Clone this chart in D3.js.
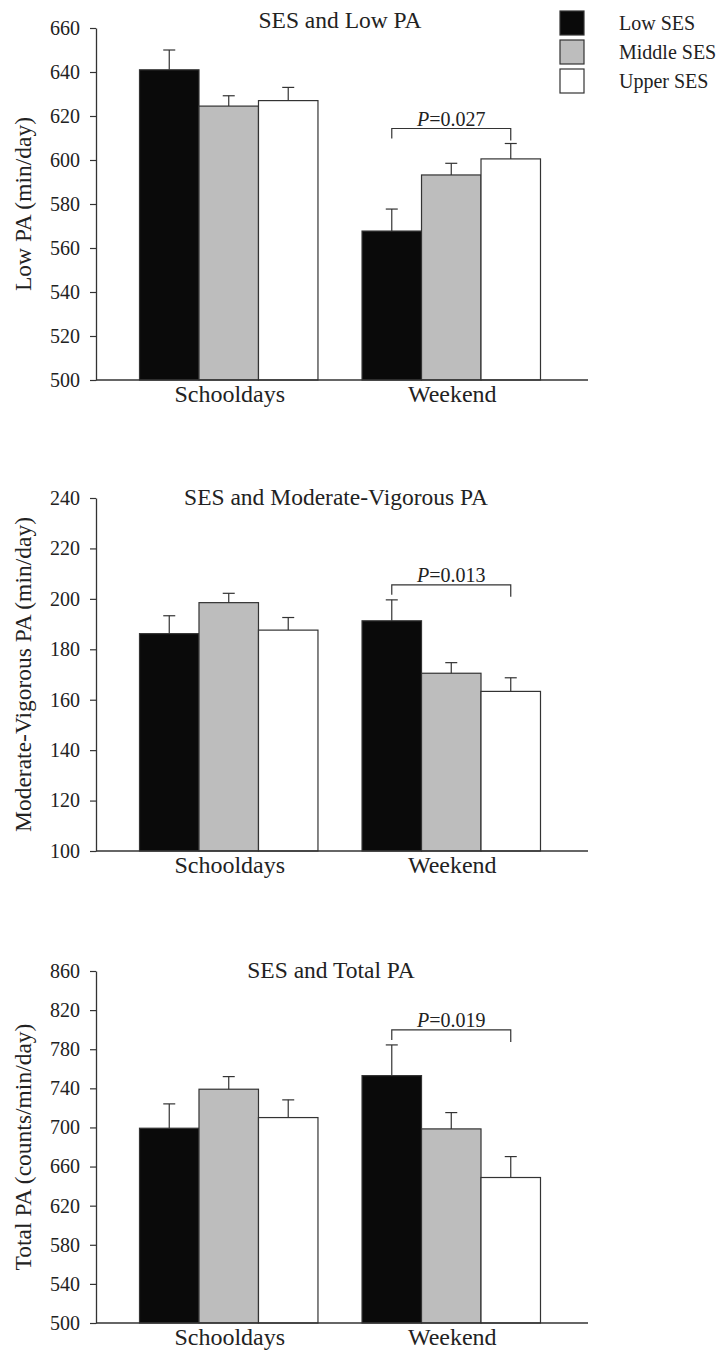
<!DOCTYPE html>
<html>
<head>
<meta charset="utf-8">
<script src="https://cdn.jsdelivr.net/npm/d3@7"></script>
<style>
  html, body { margin: 0; padding: 0; background: #fff; }
  svg text { font-family: "Liberation Serif", "Times New Roman", serif; fill: #222; }
</style>
</head>
<body>
<svg id="chart" width="720" height="1351"></svg>
<script>
// Day types on the x axis and SES groups within each day type
const categories = ["Schooldays", "Weekend"];
const sesGroups = ["Low SES", "Middle SES", "Upper SES"];

// Low PA (min/day): means and SE per day type, ordered Low / Middle / Upper SES
const lowPaMeans = [[641, 624.5, 627], [567.7, 593.2, 600.5]];
const lowPaErr = [[9, 4.7, 6], [10, 5.3, 7]];
const lowPaTicks = [500, 520, 540, 560, 580, 600, 620, 640, 660];

// Moderate-vigorous PA (min/day)
const mvpaMeans = [[186.2, 198.5, 187.6], [191.3, 170.5, 163.3]];
const mvpaErr = [[7.1, 3.7, 5], [8.3, 4.2, 5.4]];
const mvpaTicks = [100, 120, 140, 160, 180, 200, 220, 240];

// Total PA (counts/min/day)
const totalPaMeans = [[699.2, 739.1, 710.1], [753, 698.5, 648.8]];
const totalPaErr = [[24.9, 12.9, 18.1], [31.4, 16.7, 21.4]];
const totalPaTicks = [500, 540, 580, 620, 660, 700, 740, 780, 820, 860];

// Weekend Low vs Upper SES comparison labels
const pValues = ["0.027", "0.013", "0.019"];

const titles = ["SES and Low PA", "SES and Moderate-Vigorous PA", "SES and Total PA"];
const yLabels = ["Low PA (min/day)", "Moderate-Vigorous PA (min/day)", "Total PA (counts/min/day)"];

const fills = ["#0a0a0a", "#bdbdbd", "#ffffff"];
const ink = "#333";

const panels = [
  { means: lowPaMeans, err: lowPaErr, ticks: lowPaTicks, p: pValues[0], title: titles[0], yLabel: yLabels[0],
    top: 28, bottom: 380, titleX: 340, titleY: 28 },
  { means: mvpaMeans, err: mvpaErr, ticks: mvpaTicks, p: pValues[1], title: titles[1], yLabel: yLabels[1],
    top: 498, bottom: 851, titleX: 336, titleY: 505 },
  { means: totalPaMeans, err: totalPaErr, ticks: totalPaTicks, p: pValues[2], title: titles[2], yLabel: yLabels[2],
    top: 971, bottom: 1323, titleX: 331, titleY: 978 }
];

const svg = d3.select("#chart");
const axisLeftX = 96, axisRightX = 588;

const x0 = d3.scaleBand().domain(categories).range([94, 586]).paddingInner(0.198).paddingOuter(0.2045);
const x1 = d3.scaleBand().domain(d3.range(sesGroups.length)).range([0, x0.bandwidth()]).padding(0);

panels.forEach(pn => {
  const g = svg.append("g");
  const y = d3.scaleLinear()
    .domain([pn.ticks[0], pn.ticks[pn.ticks.length - 1]])
    .range([pn.bottom, pn.top]);

  // title
  g.append("text")
    .attr("x", pn.titleX).attr("y", pn.titleY)
    .attr("text-anchor", "middle")
    .style("font-size", "23.5px")
    .text(pn.title);

  // y axis title
  g.append("text")
    .attr("transform", `translate(23,${(pn.top + pn.bottom) / 2}) rotate(-90)`)
    .attr("text-anchor", "middle")
    .attr("dominant-baseline", "central")
    .style("font-size", "23.5px")
    .text(pn.yLabel);

  // bars
  categories.forEach((cat, ci) => {
    const bg = g.append("g").attr("transform", `translate(${x0(cat)},0)`);
    sesGroups.forEach((s, si) => {
      const v = pn.means[ci][si];
      const e = pn.err[ci][si];
      const bx = x1(si), bw = x1.bandwidth();
      bg.append("rect")
        .attr("x", bx).attr("y", y(v))
        .attr("width", bw).attr("height", y.range()[0] - y(v))
        .attr("fill", fills[si])
        .attr("stroke", ink).attr("stroke-width", 1.2);
      const cx = bx + bw / 2;
      bg.append("line")
        .attr("x1", cx).attr("x2", cx)
        .attr("y1", y(v)).attr("y2", y(v + e))
        .attr("stroke", ink).attr("stroke-width", 1.2);
      bg.append("line")
        .attr("x1", cx - 6).attr("x2", cx + 6)
        .attr("y1", y(v + e)).attr("y2", y(v + e))
        .attr("stroke", ink).attr("stroke-width", 1.2);
    });
  });

  // y axis
  const ya = g.append("g")
    .attr("transform", `translate(${axisLeftX},0)`)
    .call(d3.axisLeft(y).tickValues(pn.ticks).tickSize(6).tickSizeOuter(0).tickPadding(10).tickFormat(d3.format("d")));
  ya.select(".domain").attr("stroke", ink).attr("stroke-width", 1.3);
  ya.selectAll(".tick line").attr("stroke", ink).attr("stroke-width", 1.2);
  ya.selectAll(".tick text")
    .style("font-family", '"Liberation Serif", "Times New Roman", serif')
    .style("font-size", "20px").attr("fill", "#222");

  // x axis baseline
  g.append("line")
    .attr("x1", axisLeftX).attr("x2", axisRightX)
    .attr("y1", pn.bottom).attr("y2", pn.bottom)
    .attr("stroke", ink).attr("stroke-width", 1.3);

  // category labels
  categories.forEach(cat => {
    g.append("text")
      .attr("x", x0(cat) + x0.bandwidth() / 2 + 1)
      .attr("y", pn.bottom + 22)
      .attr("text-anchor", "middle")
      .style("font-size", "24px")
      .text(cat);
  });

  // significance bracket: weekend Low SES vs Upper SES
  const wk = categories[1];
  const xa = x0(wk) + x1(0) + x1.bandwidth() / 2;
  const xb = x0(wk) + x1(2) + x1.bandwidth() / 2;
  const topErr = d3.min([0, 1, 2], i => y(pn.means[1][i] + pn.err[1][i]));
  const by = topErr - 15;
  g.append("path")
    .attr("d", `M${xa},${by + 10}V${by}H${xb}V${by + 12}`)
    .attr("fill", "none").attr("stroke", ink).attr("stroke-width", 1.2);
  const pt = g.append("text")
    .attr("x", (xa + xb) / 2).attr("y", by - 3)
    .attr("text-anchor", "middle")
    .style("font-size", "20px");
  pt.append("tspan").style("font-style", "italic").text("P");
  pt.append("tspan").text("=" + pn.p);
});

// legend
const lg = svg.append("g");
sesGroups.forEach((s, i) => {
  lg.append("rect")
    .attr("x", 560).attr("y", 11 + i * 29)
    .attr("width", 24).attr("height", 24)
    .attr("fill", fills[i]).attr("stroke", ink).attr("stroke-width", 1.2);
  lg.append("text")
    .attr("x", 619).attr("y", 30 + i * 29)
    .style("font-size", "20px")
    .text(s);
});
</script>
</body>
</html>
